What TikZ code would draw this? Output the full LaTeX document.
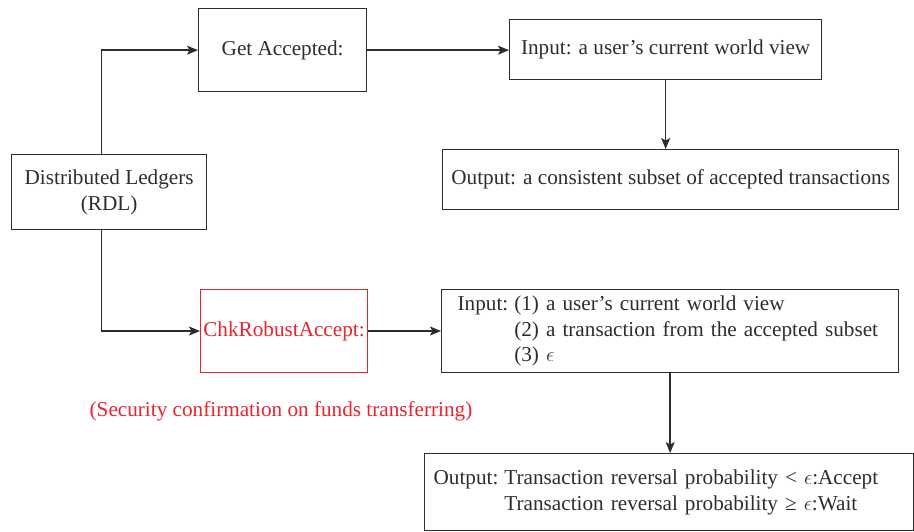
\documentclass[tikz,border=0pt]{standalone}
\usepackage{fontspec}
\setmainfont{Liberation Serif}
\usetikzlibrary{arrows.meta}
\definecolor{ink}{RGB}{45,45,45}
\definecolor{alert}{RGB}{232,36,44}
\begin{document}
\begin{tikzpicture}[x=1pt,y=-1pt,
  font=\fontsize{21.2}{25.5}\selectfont,
  box/.style={draw=ink, line width=1.3pt, rectangle, inner sep=0pt, text=ink, anchor=north west},
  link/.style={draw=ink, line width=1.4pt, -{Stealth[length=11pt,width=9pt,inset=2.5pt]}},
]
\useasboundingbox (0,0) rectangle (914,531);

% boxes
\node[box, minimum width=195, minimum height=75, align=center] (dl) at (11,154)
  {Distributed Ledgers\\(RDL)};
\node[box, minimum width=168, minimum height=83] (get) at (198,8) {Get Accepted:};
\node[box, minimum width=312, minimum height=60] (in1) at (509,19)
  {Input: a user’s current world view};
\node[box, minimum width=456, minimum height=60] (out1) at (442,149)
  {Output: a consistent subset of accepted transactions};
\node[box, draw=alert, text=alert, line width=1pt, minimum width=167, minimum height=83] (chk) at (200,289)
  {ChkRobustAccept:};
\node[box, minimum width=457, minimum height=83, text width=425, inner xsep=16, align=left] (in2) at (441,289)
  {\begin{tabular}{@{}l@{\hspace{6pt}}l@{}}
   Input: & (1) a user’s current world view\\
          & (2) a transaction from the accepted subset\\
          & (3) $\epsilon$
   \end{tabular}};
\node[box, minimum width=489, minimum height=77, text width=471, inner xsep=9, align=left] (out2) at (424,453)
  {\begin{tabular}{@{}l@{\hspace{6pt}}l@{}}
   Output: & Transaction reversal probability < $\epsilon$:Accept\\
           & Transaction reversal probability ≥ $\epsilon$:Wait
   \end{tabular}};

% note under the robust-accept check
\node[text=alert] (note) at (281,411) {(Security confirmation on funds transferring)};

% connectors
\draw[link] ([xshift=-7.5]dl.north) |- (get.west);
\draw[link] ([xshift=-7.5]dl.south) |- (chk.west);
\draw[link] (get.east) -- (get.east -| in1.west);
\draw[link] (in1.south) -- (in1.south |- out1.north);
\draw[link] (chk.east) -- (chk.east -| in2.west);
\draw[link] (in2.south) -- (in2.south |- out2.north);
\end{tikzpicture}
\end{document}
